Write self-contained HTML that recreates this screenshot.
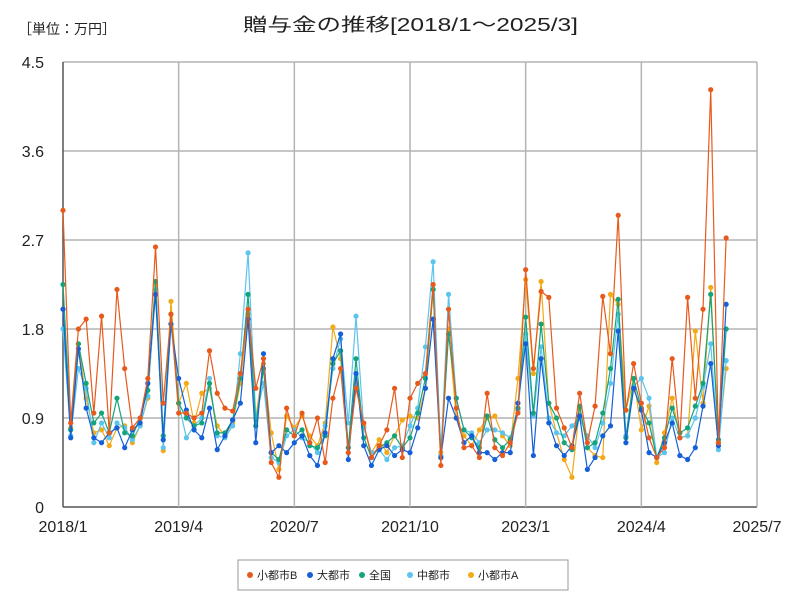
<!DOCTYPE html>
<html><head><meta charset="utf-8"><style>
body{margin:0;background:#fff;font-family:"Liberation Sans","Noto Sans CJK JP",sans-serif}
svg text{font-family:"Liberation Sans","Noto Sans CJK JP",sans-serif}
</style></head><body>
<svg id="chart" width="800" height="600" xmlns="http://www.w3.org/2000/svg">
<rect width="800" height="600" fill="#fff"/>
<text x="18" y="34" font-size="14" fill="#222">［単位：万円］</text>
<text x="243" y="31" font-size="18" textLength="335" lengthAdjust="spacingAndGlyphs" fill="#222">贈与金の推移[2018/1～2025/3]</text>
<g id="grid"></g><g id="series"></g><g id="legend"></g>
</svg>
<script>
const xTicks=["2018/1","2019/4","2020/7","2021/10","2023/1","2024/4","2025/7"];
const yTicks=[0,0.9,1.8,2.7,3.6,4.5];
const yTickLabels=["0","0.9","1.8","2.7","3.6","4.5"];
const seriesNames=["小都市B","大都市","全国","中都市","小都市A"];
const smallB=[3.0,0.85,1.8,1.9,0.95,1.93,0.75,2.2,1.4,0.8,0.9,1.3,2.63,1.05,1.95,0.95,0.95,0.9,0.95,1.58,1.15,1.0,0.97,1.35,2.0,1.2,1.5,0.45,0.3,1.0,0.72,0.95,0.65,0.9,0.45,1.1,1.4,0.55,1.2,0.85,0.5,0.62,0.78,1.2,0.5,1.1,1.25,1.35,2.25,0.42,2.0,1.0,0.6,0.62,0.5,1.15,0.6,0.52,0.65,0.95,2.4,1.4,2.18,2.12,1.0,0.8,0.6,1.15,0.65,1.02,2.13,1.55,2.95,0.98,1.45,1.05,0.7,0.5,0.6,1.5,0.7,2.12,1.1,2.0,4.22,0.65,2.72];
const large=[2.0,0.7,1.6,1.0,0.7,0.65,0.75,0.8,0.6,0.78,0.85,1.25,2.15,0.68,1.85,1.3,0.98,0.78,0.7,1.0,0.58,0.72,0.88,1.05,1.9,0.65,1.55,0.55,0.62,0.55,0.65,0.72,0.52,0.42,0.75,1.5,1.75,0.48,1.35,0.62,0.42,0.58,0.62,0.52,0.58,0.55,0.8,1.2,1.9,0.5,1.1,0.9,0.65,0.72,0.55,0.55,0.48,0.55,0.55,1.05,1.65,0.52,1.5,0.85,0.62,0.52,0.62,0.92,0.38,0.5,0.72,0.82,1.78,0.65,1.2,0.98,0.55,0.5,0.65,0.85,0.52,0.48,0.6,1.02,1.45,0.62,2.05];
const national=[2.25,0.78,1.65,1.25,0.85,0.95,0.75,1.1,0.75,0.72,0.9,1.18,2.28,0.72,1.95,1.05,0.9,0.82,0.85,1.25,0.75,0.75,0.88,1.3,2.15,0.82,1.4,0.55,0.48,0.78,0.72,0.78,0.62,0.6,0.72,1.45,1.58,0.6,1.5,0.7,0.5,0.6,0.65,0.72,0.6,0.7,0.95,1.3,2.2,0.5,1.75,1.1,0.78,0.7,0.6,0.92,0.68,0.6,0.68,1.0,1.92,0.95,1.85,1.05,0.9,0.65,0.58,1.02,0.6,0.65,0.95,1.4,2.1,0.7,1.3,1.0,0.85,0.5,0.7,1.0,0.75,0.8,1.02,1.25,2.15,0.68,1.8];
const medium=[1.8,0.72,1.4,1.2,0.65,0.85,0.7,0.85,0.8,0.68,0.82,1.12,2.2,0.6,1.85,1.05,0.7,0.82,0.9,1.3,0.72,0.7,0.82,1.55,2.57,0.9,1.25,0.5,0.45,0.72,0.78,0.7,0.65,0.55,0.82,1.4,1.7,0.85,1.93,0.8,0.55,0.58,0.48,0.6,0.62,0.82,1.0,1.62,2.48,0.52,2.15,1.1,0.78,0.75,0.65,0.78,0.78,0.75,0.7,0.98,1.75,0.92,1.62,0.9,0.75,0.72,0.82,0.9,0.72,0.6,0.85,1.25,1.95,0.72,1.22,1.3,1.1,0.5,0.55,0.9,0.7,0.72,0.9,1.22,1.65,0.58,1.48];
const smallA=[2.0,0.8,1.65,1.1,0.75,0.78,0.62,0.8,0.82,0.65,0.82,1.1,2.25,0.57,2.08,1.05,1.25,0.85,1.15,1.2,0.82,0.72,0.85,1.25,1.95,0.9,1.45,0.75,0.38,0.92,0.8,0.92,0.72,0.62,0.85,1.82,1.5,0.6,1.25,0.82,0.55,0.68,0.55,0.72,0.88,0.92,0.9,1.2,2.2,0.55,1.8,0.9,0.72,0.62,0.78,0.9,0.92,0.72,0.62,1.3,2.3,1.35,2.28,1.05,0.75,0.48,0.3,1.0,0.6,0.52,0.5,2.15,2.05,0.98,1.3,0.78,1.02,0.45,0.75,1.1,0.7,0.72,1.78,1.05,2.22,0.65,1.4];
const seriesData=[smallB,large,national,medium,smallA];
const colors=["#e85a1c","#1560d8","#14a47c","#5cc4ee","#f2aa18"];
const NS="http://www.w3.org/2000/svg";
const X0=63,X1=757,Y0=507,Y1=62,nMonths=90;
const xs=i=>X0+(X1-X0)*i/nMonths;
const ys=v=>Y0-(Y0-Y1)*v/4.5;
function mk(t,a,p){const e=document.createElementNS(NS,t);for(const k in a)e.setAttribute(k,a[k]);p.appendChild(e);return e;}
const grid=document.getElementById('grid');
yTicks.forEach((v,i)=>{
 const l=mk('line',{x1:X0,x2:X1,y1:ys(v),y2:ys(v),stroke:i==0?'#555':'#b4b4b4','stroke-width':1.5},grid);
 
 
 const t=mk('text',{x:44,y:ys(v)+6,'font-size':16,'text-anchor':'end',fill:'#222'},grid);
 t.textContent=yTickLabels[i];
 
 
});
xTicks.forEach((s,i)=>{
 const x=xs(i*15);
 const l=mk('line',{x1:x,x2:x,y1:Y1,y2:Y0,stroke:i==0?'#555':'#b4b4b4','stroke-width':1.5},grid);
 
 
 const t=mk('text',{x:x,y:532,'font-size':16,'text-anchor':'middle',fill:'#222'},grid);
 t.textContent=s;
 
 
});
const sg=document.getElementById('series');
for(let k=seriesData.length-1;k>=0;k--){
 const d=seriesData[k];
 const g=mk('g',{},sg);
 
 
 const pl=mk('polyline',{points:d.map((v,i)=>xs(i)+','+ys(v)).join(' '),fill:'none',stroke:colors[k],'stroke-width':1.2},g);
 
 
 d.forEach((v,i)=>{
  const c=mk('circle',{cx:xs(i),cy:ys(v),r:2.6,fill:colors[k]},g);
  
  
 });
}
const lg=document.getElementById('legend');
const box=mk('rect',{x:238,y:560,width:330,height:30,fill:'#fff',stroke:'#999'},lg);


const lx=[246,306,358,406,467];
seriesNames.forEach((n,k)=>{
 const g=mk('g',{},lg);
 
 
 mk('circle',{cx:lx[k]+4,cy:575,r:3,fill:colors[k]},g);
 const t=mk('text',{x:lx[k]+11,y:579,'font-size':11,fill:'#222'},g);
 t.textContent=n;
});
</script>
</body></html>
